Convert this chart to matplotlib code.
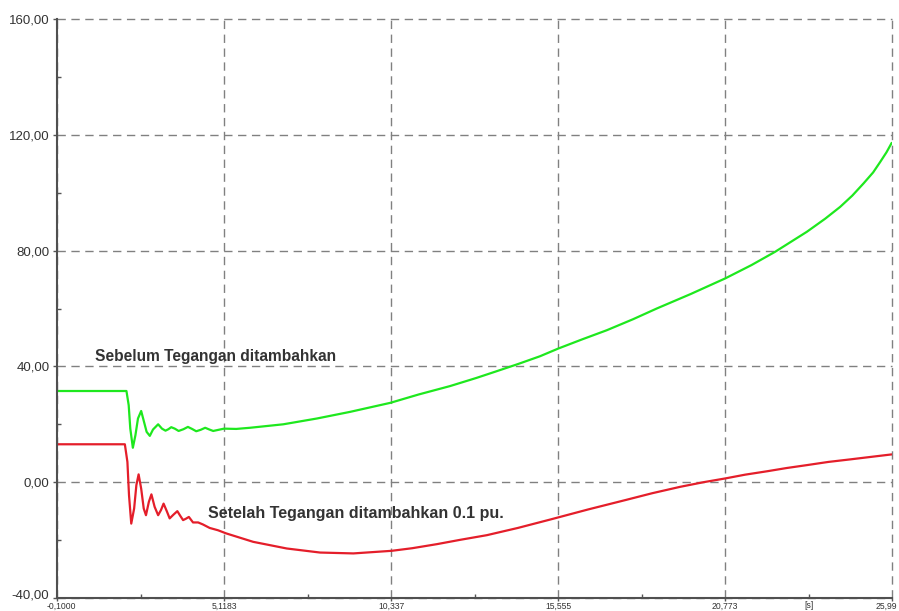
import matplotlib
matplotlib.use("Agg")
import matplotlib.pyplot as plt
from matplotlib.ticker import FixedLocator
from matplotlib.transforms import ScaledTranslation

# Time axis [s] and simulated responses
t_green = [-0.10, 1.00, 2.07, 2.14, 2.19, 2.27, 2.35, 2.43, 2.53, 2.62, 2.70,
           2.80, 2.90, 3.06, 3.18, 3.29, 3.38, 3.47, 3.58, 3.70, 3.85, 3.99,
           4.12, 4.25, 4.39, 4.53, 4.66, 4.78, 4.95, 5.12, 5.50, 5.93, 6.97,
           8.02, 9.06, 10.31, 11.20, 12.18, 13.00, 13.60, 14.30, 14.99, 15.57,
           16.30, 17.08, 17.90, 18.64, 19.70, 20.78, 21.60, 22.34, 23.33,
           23.90, 24.37, 24.75, 25.10, 25.40, 25.62, 25.82, 25.98]
v_green = [31.5, 31.5, 31.5, 26.6, 18.5, 11.9, 16.2, 22.0, 24.6, 20.8, 17.4,
           16.0, 18.2, 20.0, 18.5, 17.8, 18.3, 19.0, 18.5, 17.7, 18.3, 19.1,
           18.4, 17.6, 18.1, 18.8, 18.2, 17.7, 18.1, 18.5, 18.4, 18.8, 20.0,
           22.0, 24.3, 27.4, 30.3, 33.2, 36.0, 38.2, 40.8, 43.5, 46.2,
           49.3, 52.5, 56.3, 60.0, 65.0, 70.4, 75.0, 79.6, 86.5,
           91.0, 95.1, 99.0, 103.2, 107.0, 110.6, 114.0, 117.2]

t_red = [-0.10, 1.00, 2.02, 2.10, 2.15, 2.22, 2.31, 2.38, 2.45, 2.53, 2.61,
         2.68, 2.77, 2.85, 2.95, 3.06, 3.15, 3.23, 3.33, 3.42, 3.54, 3.66,
         3.75, 3.84, 3.93, 4.02, 4.15, 4.31, 4.46, 4.67, 4.93, 5.19, 6.03,
         7.08, 8.12, 9.16, 10.36, 11.00, 11.77, 12.50, 13.33, 14.30, 15.31,
         16.50, 17.65, 18.50, 19.37, 20.10, 20.78, 21.40, 22.10, 22.70,
         23.33, 24.00, 24.70, 25.30, 25.98]
v_red = [13.1, 13.1, 13.1, 7.0, -4.5, -14.3, -9.1, -1.0, 2.7, -2.2, -9.1,
         -11.4, -6.8, -4.2, -8.5, -11.4, -9.6, -7.4, -10.0, -12.5, -11.2, -10.0,
         -11.6, -13.1, -12.6, -12.0, -13.9, -13.9, -14.6, -15.8, -16.6, -17.7,
         -20.6, -22.9, -24.3, -24.6, -23.7, -22.8, -21.4, -19.9, -18.3, -15.8,
         -12.9, -9.4, -6.2, -3.8, -1.6, 0.0, 1.3, 2.6, 3.8, 4.9,
         5.9, 7.0, 7.9, 8.7, 9.6]

x_ticks = [-0.1000, 5.1183, 10.337, 15.555, 20.773, 25.99]
x_tick_labels = ["-0,1000", "5,1183", "10,337", "15,555", "20,773", "25,99"]
y_ticks = [-40, 0, 40, 80, 120, 160]
y_tick_labels = ["-40,00", "0,00", "40,00", "80,00", "120,00", "160,00"]

label_before = "Sebelum Tegangan ditambahkan"
label_after = "Setelah Tegangan ditambahkan 0.1 pu."
unit_label = "[s]"

plt.rcParams["font.family"] = ["Liberation Sans", "DejaVu Sans"]

fig = plt.figure(figsize=(8.99, 6.11), dpi=100)
ax = fig.add_axes([57 / 899, 13 / 611, 835 / 899, 579 / 611])

ax.set_xlim(x_ticks[0], x_ticks[-1])
ax.set_ylim(y_ticks[0], y_ticks[-1])

ax.plot(t_green, v_green, color="#1ee81e", lw=1.6, zorder=3,
        solid_joinstyle="round", solid_capstyle="round")
ax.plot(t_red, v_red, color="#e41e2a", lw=1.6, zorder=3,
        solid_joinstyle="round", solid_capstyle="round")

# Grid and ticks
ax.xaxis.set_major_locator(FixedLocator(x_ticks))
ax.yaxis.set_major_locator(FixedLocator(y_ticks))
x_minor = [(a + b) / 2 for a, b in zip(x_ticks[:-1], x_ticks[1:])]
y_minor = [(a + b) / 2 for a, b in zip(y_ticks[:-1], y_ticks[1:])]
ax.xaxis.set_minor_locator(FixedLocator(x_minor))
ax.yaxis.set_minor_locator(FixedLocator(y_minor))
ax.set_xticklabels(x_tick_labels)
ax.set_yticklabels(y_tick_labels)

ax.grid(True, which="major", color="#808080", lw=1.0,
        linestyle=(0, (6, 4)), zorder=1)
# Let the grid lines on the plot edges (top and right frame) draw in full
for gl in ax.get_xgridlines() + ax.get_ygridlines():
    gl.set_clip_on(False)

ax.tick_params(axis="x", which="major", direction="out", length=2,
               width=1, color="#555555", labelsize=6.2, labelcolor="#333333",
               pad=0.5)
ax.tick_params(axis="y", which="major", direction="out", length=3,
               width=1, color="#555555", labelsize=9.5, labelcolor="#333333",
               pad=2.5)
ax.tick_params(which="minor", direction="in", length=3, width=1,
               color="#555555")

# Nudge the corner labels so they stay apart and inside the canvas
def shift(label, dx_px, dy_px):
    label.set_transform(label.get_transform() +
                        ScaledTranslation(dx_px / 100, dy_px / 100,
                                          fig.dpi_scale_trans))

shift(ax.get_xticklabels()[-1], -6, 0)
shift(ax.get_xticklabels()[0], 4, 0)
shift(ax.get_yticklabels()[0], 0, 4)

for side in ("top", "right"):
    ax.spines[side].set_visible(False)
for side in ("left", "bottom"):
    ax.spines[side].set_color("#505050")
    ax.spines[side].set_linewidth(1.5)
    ax.spines[side].set_zorder(4)

# Unit label sits at the last minor tick position on the time axis
ax.annotate(unit_label, xy=(x_minor[-1], 0), xycoords=ax.get_xaxis_transform(),
            xytext=(0, -2.5), textcoords="offset points",
            ha="center", va="top", fontsize=6.2, color="#333333")

ax.text(1.09, 43.5, label_before, fontsize=11.2, fontweight="bold",
        color="#333333", ha="left", va="center", zorder=5)
ax.text(4.62, -10.7, label_after, fontsize=11.5, fontweight="bold",
        color="#333333", ha="left", va="center", zorder=5)

fig.savefig("out.png", dpi=100)
